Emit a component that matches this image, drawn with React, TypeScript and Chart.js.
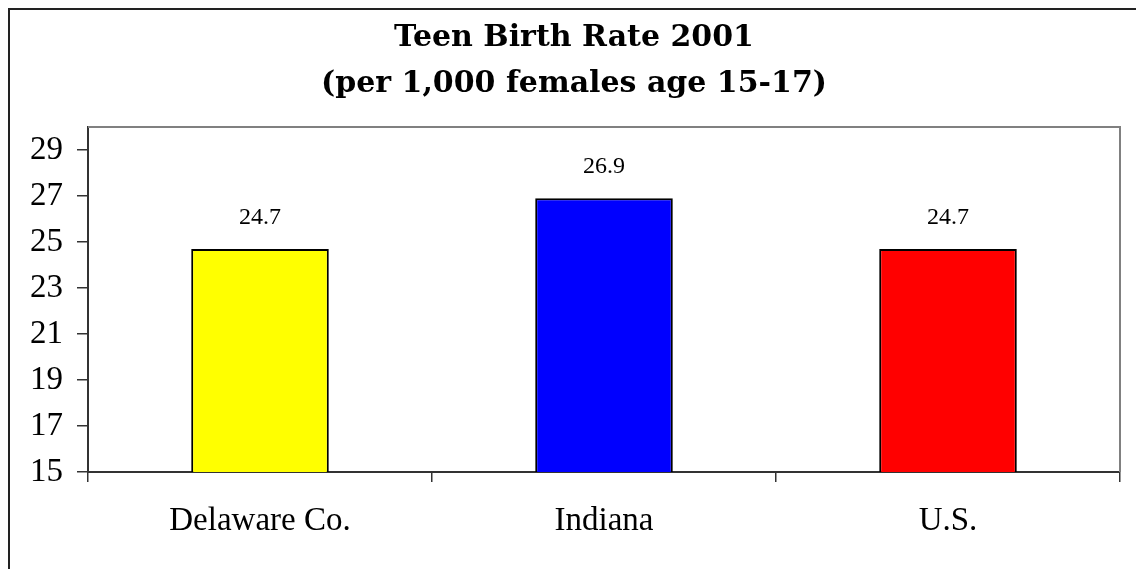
import React, { useEffect, useRef } from "react";
import { Chart, registerables } from "chart.js";

Chart.register(...registerables);

const categories: string[] = ["Delaware Co.", "Indiana", "U.S."];
const birthRates: number[] = [24.7, 26.9, 24.7];
const barColors: string[] = ["#FFFF00", "#0000FF", "#FF0000"];
const yTickValues: number[] = [15, 17, 19, 21, 23, 25, 27, 29];
const titleLines: string[] = ["Teen Birth Rate 2001", "(per 1,000 females age 15-17)"];

const W = 1139;
const H = 569;

const framePlugin = {
  id: "frame",
  beforeDraw(chart: any) {
    const ctx = chart.ctx;
    ctx.save();
    ctx.fillStyle = "#ffffff";
    ctx.fillRect(0, 0, chart.width, chart.height);
    ctx.strokeStyle = "#222222";
    ctx.lineWidth = 2;
    ctx.lineCap = "butt";
    ctx.beginPath();
    ctx.moveTo(9, H);
    ctx.lineTo(9, 9);
    ctx.lineTo(W - 3, 9);
    ctx.stroke();
    // title
    ctx.fillStyle = "#000000";
    ctx.font = "bold 30px 'DejaVu Serif'";
    ctx.textAlign = "center";
    ctx.textBaseline = "alphabetic";
    ctx.fillText(titleLines[0], 574, 46);
    ctx.fillText(titleLines[1], 574, 92);
    ctx.restore();
  },
  afterDatasetsDraw(chart: any) {
    const { ctx, chartArea } = chart;
    ctx.save();
    ctx.strokeStyle = "#808080";
    ctx.lineWidth = 2;
    ctx.beginPath();
    ctx.moveTo(chartArea.left, chartArea.top);
    ctx.lineTo(chartArea.right, chartArea.top);
    ctx.lineTo(chartArea.right, chartArea.bottom);
    ctx.stroke();
    const meta = chart.getDatasetMeta(0);
    ctx.fillStyle = "#000000";
    ctx.font = "24px 'Liberation Serif'";
    ctx.textAlign = "center";
    ctx.textBaseline = "alphabetic";
    meta.data.forEach((bar: any, i: number) => {
      ctx.fillText(birthRates[i].toFixed(1), bar.x, bar.y - 25);
    });
    ctx.restore();
  },
};

export default function App() {
  const ref = useRef<HTMLCanvasElement | null>(null);
  useEffect(() => {
    document.documentElement.style.overflow = "hidden";
    document.body.style.overflow = "hidden";
    const chart = new Chart(ref.current as HTMLCanvasElement, {
      type: "bar",
      data: {
        labels: categories,
        datasets: [
          {
            data: birthRates,
            backgroundColor: barColors,
            borderColor: "#000000",
            borderWidth: 2,
            borderSkipped: false,
            barPercentage: 0.4,
            categoryPercentage: 1,
          },
        ],
      },
      options: {
        responsive: false,
        animation: false,
        layout: { padding: { left: 0, right: 19, top: 127, bottom: 0 } },
        plugins: {
          legend: { display: false },
          tooltip: { enabled: false },
          title: { display: false },
        },
        scales: {
          x: {
            grid: {
              display: true,
              drawOnChartArea: false,
              drawTicks: true,
              tickLength: 10,
              color: "#333333",
              lineWidth: 1.5,
              offset: true,
            },
            border: { display: true, color: "#333333", width: 2 },
            ticks: {
              color: "#000000",
              font: { family: "'Liberation Serif'", size: 33, lineHeight: 1.2 },
              padding: 20,
            },
            afterFit: (scale: any) => {
              scale.height = 97;
            },
          },
          y: {
            min: 15,
            max: 30,
            afterBuildTicks: (scale: any) => {
              scale.ticks = yTickValues.map((v) => ({ value: v }));
            },
            grid: {
              display: true,
              drawOnChartArea: false,
              drawTicks: true,
              tickLength: 11,
              color: "#333333",
              lineWidth: 1.5,
            },
            border: { display: true, color: "#333333", width: 2 },
            ticks: {
              color: "#000000",
              font: { family: "'Liberation Serif'", size: 33 },
              padding: 14,
            },
            afterFit: (scale: any) => {
              scale.width = 88;
            },
          },
        },
      },
      plugins: [framePlugin],
    });
    return () => chart.destroy();
  }, []);
  return (
    <div style={{ position: "fixed", left: 0, top: 0, width: W, height: H }}>
      <canvas ref={ref} width={W} height={H} style={{ width: W, height: H, display: "block" }} />
    </div>
  );
}
